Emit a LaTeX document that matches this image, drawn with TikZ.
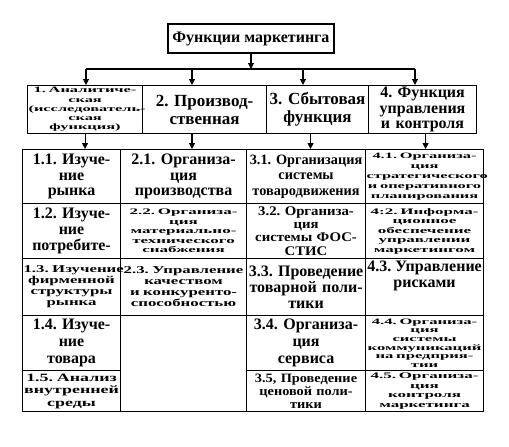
\documentclass[tikz,border=0pt]{standalone}
\usepackage{fontspec}
\setmainfont{Liberation Serif}
\newfontfamily\midserif[FakeStretch=1.6]{Liberation Serif}
\newfontfamily\wideserif[FakeStretch=2.0]{Liberation Serif}
\newfontfamily\wideish[FakeStretch=1.12]{Liberation Serif}
\usetikzlibrary{arrows.meta, positioning}

\begin{document}
\begin{tikzpicture}[x=1pt, y=-1pt,
    box/.style={draw, line width=1.1pt, inner sep=1pt, align=center, anchor=north west,
                execute at begin node={\frenchspacing\exhyphenpenalty=10000\hyphenpenalty=10000}},
    titletext/.style={font=\fontsize{16}{16}\selectfont\bfseries},
    headtext/.style={font=\fontsize{17}{18}\selectfont\bfseries},
    bigtext/.style={font=\fontsize{16}{16}\selectfont\bfseries},
    midtext/.style={font=\midserif\fontsize{10.5}{11}\selectfont\bfseries},
    smalltext/.style={font=\wideserif\fontsize{8.5}{9.5}\selectfont\bfseries},
    colA/.style={minimum width=98pt, text width=96pt},
    colB/.style={minimum width=126pt, text width=124pt},
    colC/.style={minimum width=119pt, text width=117pt},
    colD/.style={minimum width=118pt, text width=116pt},
    arr/.style={-{Triangle[width=6pt,length=6pt]}, line width=1.1pt}
]
\useasboundingbox (0,0) rectangle (509,447);

% Title and bus
\node[box, titletext, anchor=center, minimum width=166pt, minimum height=29pt] (title) at (251,38.5) {Функции маркетинга};
\coordinate (b1) at (86,69);
\coordinate (b2) at (192,69);
\coordinate (b3) at (303,69);
\coordinate (b4) at (415,69);
\draw[arr] (title.south) -- (title.south |- b1);
\draw[line width=1.1pt] (b1) -- (b4);

% Function groups
\node[box, smalltext, font=\wideserif\fontsize{8.2}{9.2}\selectfont\bfseries, minimum width=115pt, text width=113pt, minimum height=48pt] (fa) at (27,85)
    {1. Аналитиче-\\ская\\(исследователь-\\ская\\функция)};
\node[box, headtext, minimum width=124pt, text width=122pt, minimum height=48pt] (fb) at (142,85)
    {2. Производ-\\ственная};
\node[box, headtext, minimum width=102pt, text width=100pt, minimum height=48pt] (fc) at (266,85)
    {3. Сбытовая\\функция};
\node[box, headtext, font=\fontsize{16}{15.3}\selectfont\bfseries, minimum width=108pt, text width=106pt, minimum height=48pt] (fd) at (368,85)
    {4. Функция\\управления\\и контроля};

\draw[arr] (b1) -- (b1 |- fa.north);
\draw[arr] (b2) -- (b2 |- fb.north);
\draw[arr] (b3) -- (b3 |- fc.north);
\draw[arr] (b4) -- (b4 |- fd.north);

% Column 1
\node[box, bigtext, font=\fontsize{16}{15.5}\selectfont\bfseries, colA, minimum height=54pt] (c11) at (22,149) {1.1. Изуче-\\ние\\рынка};
\node[box, bigtext, colA, minimum height=55pt] (c12) at (22,203) {1.2. Изуче-\\ние\\потребите-};
\node[box, midtext, colA, minimum height=57pt] (c13) at (22,258) {1.3.~Изучение\\фирменной\\структуры\\рынка};
\node[box, bigtext, font=\fontsize{16}{17}\selectfont\bfseries, colA, minimum height=55pt] (c14) at (22,315) {1.4. Изуче-\\ние\\товара};
\node[box, midtext, font=\midserif\fontsize{11.2}{12.5}\selectfont\bfseries, colA, minimum height=41pt] (c15) at (22,370) {1.5. Анализ\\внутренней\\среды};

% Column 2
\node[box, bigtext, font=\fontsize{16}{15.5}\selectfont\bfseries, colB, minimum height=54pt] (c21) at (120,149) {2.1. Организа-\\ция\\производства};
\node[box, smalltext, colB, minimum height=55pt] (c22) at (120,203) {2.2. Организа-\\ция\\материально-\\технического\\снабжения};
\node[box, midtext, colB, minimum height=57pt] (c23) at (120,258) {2.3.~Управление\\качеством\\и~конкуренто-\\способностью};
\node[box, colB, minimum height=96pt] (c24) at (120,315) {};

% Column 3
\node[box, bigtext, font=\fontsize{14.3}{15.5}\selectfont\bfseries, colC, minimum height=54pt] (c31) at (246,149) {3.1.~Организация\\системы\\товародвижения};
\node[box, bigtext, font=\wideish\fontsize{13.2}{13.2}\selectfont\bfseries, colC, minimum height=55pt] (c32) at (246,203) {3.2. Организа-\\ция\\системы ФОС-\\СТИС};
\node[box, bigtext, colC, minimum height=57pt] (c33) at (246,258) {3.3.~Проведение\\товарной~поли-\\тики};
\node[box, bigtext, font=\fontsize{16}{17}\selectfont\bfseries, colC, minimum height=55pt] (c34) at (246,315) {3.4. Организа-\\ция\\сервиса};
\node[box, bigtext, font=\wideish\fontsize{12.8}{12.8}\selectfont\bfseries, colC, minimum height=41pt] (c35) at (246,370) {3.5,~Проведение\\ценовой~поли-\\тики};

% Column 4
\node[box, smalltext, font=\wideserif\fontsize{8.2}{10}\selectfont\bfseries, colD, minimum height=54pt] (c41) at (365,149) {4.1. Организа-\\ция\\стратегического\\и~оперативного\\планирования};
\node[box, smalltext, colD, minimum height=55pt] (c42) at (365,203) {4:2. Информа-\\ционное\\обеспечение\\управлении\\маркетингом};
\node[box, colD, minimum height=57pt] (c43) at (365,258) {};
\node[bigtext, align=center, anchor=north, inner sep=1pt] (t43) at ([yshift=-2pt]c43.north) {4.3.~Управление\\рисками};
\node[box, smalltext, font=\wideserif\fontsize{8.3}{8.7}\selectfont\bfseries, colD, minimum height=55pt] (c44) at (365,315) {4.4. Организа-\\ция\\системы\\коммуникаций\\на~предприя-\\тии};
\node[box, smalltext, font=\wideserif\fontsize{8.5}{9.8}\selectfont\bfseries, colD, minimum height=41pt] (c45) at (365,370) {4.5. Организа-\\ция\\контроля\\маркетинга};

\draw[arr] (fa.south) -- (fa.south |- c11.north);
\draw[arr] (b2 |- fb.south) -- (b2 |- c21.north);
\draw[arr] ([xshift=-7pt]fc.south) -- ([xshift=-7pt]fc.south |- c31.north);
\draw[arr] ([xshift=3pt]fd.south) -- ([xshift=3pt]fd.south |- c41.north);

\end{tikzpicture}
\end{document}
